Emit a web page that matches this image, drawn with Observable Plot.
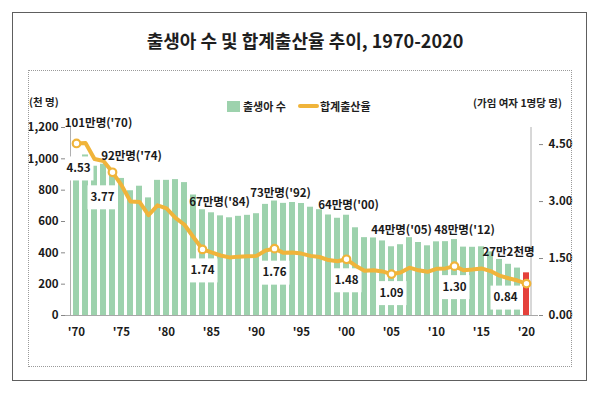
<!DOCTYPE html>
<html><head><meta charset="utf-8">
<script src="https://cdn.jsdelivr.net/npm/d3@7"></script>
<script src="https://cdn.jsdelivr.net/npm/@observablehq/plot@0.6"></script>
<style>
body{margin:0;background:#fff;}
#wrap{position:relative;width:600px;height:393px;overflow:hidden;background:#fff;font-family:"Noto Sans CJK KR","Noto Sans",sans-serif;color:#1e1e1e;}
#chart{position:absolute;left:0;top:0;}
.outer{position:absolute;left:12px;top:12px;width:575px;height:369px;border:1px solid #5e5e5e;box-sizing:border-box;}
.inner{position:absolute;left:28px;top:70px;width:544px;height:297px;border:1px dotted #9a9a9a;box-sizing:border-box;}
.title{position:absolute;left:0;top:28px;width:610px;text-align:center;font-size:18px;font-weight:700;line-height:24px;}
.ax{position:absolute;font-size:10.5px;font-weight:700;line-height:14px;white-space:nowrap;}
.lg{position:absolute;top:99px;font-size:11px;font-weight:700;line-height:14px;white-space:nowrap;}
.sw{position:absolute;}
</style></head><body>
<div id="wrap">
  <div id="chart"></div>
  <div class="outer"></div>
  <div class="inner"></div>
  <div class="title">출생아 수 및 합계출산율 추이, 1970-2020</div>
  <div class="ax" style="left:29px;top:95px;">(천 명)</div>
  <div class="ax" style="left:473px;top:96px;">(가임 여자 1명당 명)</div>
  <div class="sw" style="left:227px;top:101px;width:13px;height:11px;background:#9dd2ad;"></div>
  <div class="lg" style="left:243px;">출생아 수</div>
  <div class="sw" style="left:298px;top:104px;width:21px;height:4px;background:#f0b43a;border-radius:2px;"></div>
  <div class="lg" style="left:320px;">합계출산율</div>
</div>
<script>
// ---- data ----
const years = [1970,1971,1972,1973,1974,1975,1976,1977,1978,1979,1980,1981,1982,1983,1984,1985,1986,1987,1988,1989,1990,1991,1992,1993,1994,1995,1996,1997,1998,1999,2000,2001,2002,2003,2004,2005,2006,2007,2008,2009,2010,2011,2012,2013,2014,2015,2016,2017,2018,2019,2020];
const births = [1006.6,1024.8,952.8,965.5,922.8,874.9,796.3,825.3,750.7,862.7,862.8,867.4,848.3,769.2,674.8,655.5,636.0,623.8,633.1,639.4,649.7,709.3,730.7,715.8,721.2,715.0,691.2,675.4,641.6,620.7,640.1,559.9,496.9,495.0,476.0,438.7,451.8,496.8,465.9,444.8,470.2,471.3,484.6,436.5,435.4,438.4,406.2,357.8,326.8,302.7,272.3];
const tfr = [4.53,4.54,4.12,4.07,3.77,3.43,3.00,2.99,2.64,2.90,2.82,2.57,2.39,2.06,1.74,1.66,1.58,1.53,1.55,1.56,1.57,1.71,1.76,1.65,1.66,1.63,1.57,1.54,1.46,1.43,1.48,1.31,1.18,1.19,1.16,1.09,1.13,1.26,1.19,1.15,1.23,1.24,1.30,1.19,1.21,1.24,1.17,1.05,0.98,0.92,0.84];
const hlYears = [1970,1974,1984,1992,2000,2005,2012,2020];
const birthLabels = ["101만명('70)","92만명('74)","67만명('84)","73만명('92)","64만명('00)","44만명('05)","48만명('12)","27만2천명"];
const tfrLabels = ["4.53","3.77","1.74","1.76","1.48","1.09","1.30","0.84"];
const leftTicks = [0,200,400,600,800,1000,1200];
const rightTicks = [0,1.5,3,4.5];
const xTicks = [1970,1975,1980,1985,1990,1995,2000,2005,2010,2015,2020];
const leftMax = 1200, rightMax = 4.95;

// ---- build ----
const k = leftMax / rightMax;
const data = years.map((y,i)=>({year:y, births:births[i], tfr:tfr[i]}));
const hl = hlYears.map((y,i)=>({year:y, tfr:tfr[years.indexOf(y)], bl:birthLabels[i], tl:tfrLabels[i]}));

const GREEN="#9dd2ad", RED="#e5413b", ORANGE="#f0b43a", TXT="#1a1a1a";
// label offsets (layout only)
const birthOff = [[22,-20],[19,-16],[17,-47],[6,-55],[2,-54],[10,-44],[10,-36],[-18,-31]];
const tfrOff = [[2,25],[-10,25],[0,21],[0,24],[0,21],[0,19],[0,21],[-21,14]];
const boxSym = {draw(ctx){ctx.moveTo(-15,-12);ctx.lineTo(15,-12);ctx.lineTo(15,12);ctx.lineTo(-15,12);ctx.closePath();}};

const marks = [
  Plot.barY(data.filter(d=>d.year!==2020), {x:"year", y:"births", fill:GREEN}),
  Plot.barY(data.filter(d=>d.year===2020), {x:"year", y:"births", fill:RED}),
  Plot.ruleY([0], {stroke:"#a8a8a8", strokeWidth:1}),
  Plot.ruleX([years[0]], {y1:0, y2:leftMax, dx:-6, stroke:"#b0b0b0", strokeWidth:1}),
  Plot.ruleX([years[years.length-1]], {y1:0, y2:leftMax, dx:4.5, stroke:"#b0b0b0", strokeWidth:1}),
  ...hl.map((d,i)=>Plot.dot([d], {x:"year", y:d=>d.tfr*k, dx:tfrOff[i][0], dy:tfrOff[i][1], symbol:boxSym, fill:"white", stroke:"none"})),
  Plot.lineY(data, {x:"year", y:d=>d.tfr*k, stroke:ORANGE, strokeWidth:4, strokeLinejoin:"round", strokeLinecap:"round"}),
  Plot.dot(hl, {x:"year", y:d=>d.tfr*k, r:3.8, fill:"white", stroke:ORANGE, strokeWidth:2.2}),
  ...hl.map((d,i)=>Plot.text([d], {x:"year", y:d=>d.tfr*k, text:"tl", dx:tfrOff[i][0], dy:tfrOff[i][1], fontSize:11.5, fontWeight:"bold", fill:TXT})),
  ...hl.map((d,i)=>Plot.text([d], {x:"year", y:d=>d.tfr*k, text:"bl", dx:birthOff[i][0], dy:birthOff[i][1], fontSize:11.5, fontWeight:"bold", fill:TXT, letterSpacing:"-0.3px"})),
  Plot.axisY({ticks:leftTicks, tickFormat:d3.format(","), tickSize:4, tickPadding:3, stroke:"#888", fill:TXT, label:null}),
  Plot.axisY({anchor:"right", ticks:rightTicks.map(v=>v*k), tickFormat:d=>(d/k).toFixed(2), tickSize:4, tickPadding:6, stroke:"#888", fill:TXT, label:null}),
  Plot.axisX({ticks:xTicks, tickFormat:d=>"'"+String(d).slice(2), tickSize:0, tickPadding:12, fill:TXT, label:null})
];

const chart = Plot.plot({
  width:600, height:393,
  marginTop:127, marginBottom:78, marginLeft:65, marginRight:62,
  x:{type:"band", domain:years, paddingInner:0.33, paddingOuter:0.15},
  y:{domain:[0,leftMax]},
  style:{fontFamily:"'Noto Sans CJK KR', sans-serif", fontSize:"11.5px", fontWeight:"bold", background:"transparent", overflow:"visible", color:TXT},
  marks
});
document.getElementById("chart").appendChild(chart);
</script>
</body></html>
